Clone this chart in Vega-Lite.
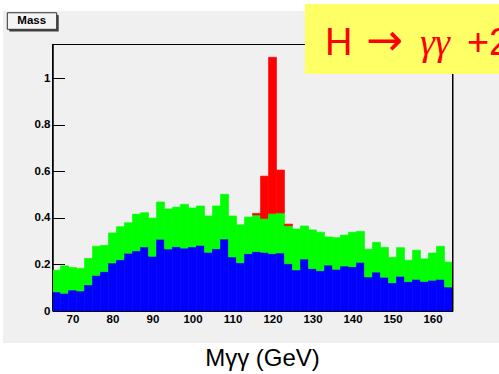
{
  "$schema": "https://vega.github.io/schema/vega-lite/v6.json",
  "width": 400,
  "height": 267,
  "autosize": {"type": "none"},
  "padding": {"left": 52.5, "top": 44, "right": 46.5, "bottom": 63},
  "background": "#f0f0f0",
  "config": {
    "view": {"stroke": "#000000", "strokeWidth": 1},
    "font": "Liberation Sans"
  },
  "data": {"values": [{}]},
  "layer": [
    {
      "mark": {"type": "rect", "fill": "#ffffff", "clip": false},
      "encoding": {
        "x": {"datum": 40}, "x2": {"datum": 190},
        "y": {"datum": -0.137}, "y2": {"datum": -0.4}
      }
    },
    {
      "mark": {"type": "rect", "fill": "#ffffff", "clip": false},
      "encoding": {
        "x": {"datum": 40}, "x2": {"datum": 190},
        "y": {"datum": 1.288}, "y2": {"datum": 1.5}
      }
    },
    {
      "mark": {"type": "rect", "fill": "#ffffff", "clip": false},
      "encoding": {
        "x": {"datum": 40}, "x2": {"datum": 52.6},
        "y": {"datum": -0.4}, "y2": {"datum": 1.5}
      }
    },
    {
      "data": {
        "values": [
          {"lo": 65, "hi": 67, "bkg1": 0.082, "bkg2": 0.093, "sig": 0},
          {"lo": 67, "hi": 69, "bkg1": 0.076, "bkg2": 0.118, "sig": 0},
          {"lo": 69, "hi": 71, "bkg1": 0.090, "bkg2": 0.097, "sig": 0},
          {"lo": 71, "hi": 73, "bkg1": 0.086, "bkg2": 0.097, "sig": 0},
          {"lo": 73, "hi": 75, "bkg1": 0.112, "bkg2": 0.114, "sig": 0},
          {"lo": 75, "hi": 77, "bkg1": 0.153, "bkg2": 0.125, "sig": 0},
          {"lo": 77, "hi": 79, "bkg1": 0.169, "bkg2": 0.113, "sig": 0},
          {"lo": 79, "hi": 81, "bkg1": 0.206, "bkg2": 0.129, "sig": 0},
          {"lo": 81, "hi": 83, "bkg1": 0.220, "bkg2": 0.142, "sig": 0},
          {"lo": 83, "hi": 85, "bkg1": 0.248, "bkg2": 0.131, "sig": 0},
          {"lo": 85, "hi": 87, "bkg1": 0.258, "bkg2": 0.158, "sig": 0},
          {"lo": 87, "hi": 89, "bkg1": 0.275, "bkg2": 0.147, "sig": 0},
          {"lo": 89, "hi": 91, "bkg1": 0.235, "bkg2": 0.164, "sig": 0},
          {"lo": 91, "hi": 93, "bkg1": 0.308, "bkg2": 0.160, "sig": 0},
          {"lo": 93, "hi": 95, "bkg1": 0.266, "bkg2": 0.172, "sig": 0},
          {"lo": 95, "hi": 97, "bkg1": 0.276, "bkg2": 0.170, "sig": 0},
          {"lo": 97, "hi": 99, "bkg1": 0.270, "bkg2": 0.188, "sig": 0},
          {"lo": 99, "hi": 101, "bkg1": 0.275, "bkg2": 0.167, "sig": 0},
          {"lo": 101, "hi": 103, "bkg1": 0.282, "bkg2": 0.169, "sig": 0},
          {"lo": 103, "hi": 105, "bkg1": 0.252, "bkg2": 0.156, "sig": 0},
          {"lo": 105, "hi": 107, "bkg1": 0.267, "bkg2": 0.184, "sig": 0},
          {"lo": 107, "hi": 109, "bkg1": 0.309, "bkg2": 0.192, "sig": 0},
          {"lo": 109, "hi": 111, "bkg1": 0.232, "bkg2": 0.176, "sig": 0},
          {"lo": 111, "hi": 113, "bkg1": 0.207, "bkg2": 0.163, "sig": 0},
          {"lo": 113, "hi": 115, "bkg1": 0.246, "bkg2": 0.157, "sig": 0},
          {"lo": 115, "hi": 117, "bkg1": 0.255, "bkg2": 0.157, "sig": 0.007},
          {"lo": 117, "hi": 119, "bkg1": 0.252, "bkg2": 0.145, "sig": 0.182},
          {"lo": 119, "hi": 121, "bkg1": 0.246, "bkg2": 0.172, "sig": 0.671},
          {"lo": 121, "hi": 123, "bkg1": 0.249, "bkg2": 0.172, "sig": 0.184},
          {"lo": 123, "hi": 125, "bkg1": 0.203, "bkg2": 0.163, "sig": 0.007},
          {"lo": 125, "hi": 127, "bkg1": 0.176, "bkg2": 0.176, "sig": 0},
          {"lo": 127, "hi": 129, "bkg1": 0.223, "bkg2": 0.142, "sig": 0},
          {"lo": 129, "hi": 131, "bkg1": 0.182, "bkg2": 0.166, "sig": 0},
          {"lo": 131, "hi": 133, "bkg1": 0.173, "bkg2": 0.165, "sig": 0},
          {"lo": 133, "hi": 135, "bkg1": 0.197, "bkg2": 0.121, "sig": 0},
          {"lo": 135, "hi": 137, "bkg1": 0.179, "bkg2": 0.136, "sig": 0},
          {"lo": 137, "hi": 139, "bkg1": 0.193, "bkg2": 0.133, "sig": 0},
          {"lo": 139, "hi": 141, "bkg1": 0.190, "bkg2": 0.148, "sig": 0},
          {"lo": 141, "hi": 143, "bkg1": 0.209, "bkg2": 0.133, "sig": 0},
          {"lo": 143, "hi": 145, "bkg1": 0.146, "bkg2": 0.119, "sig": 0},
          {"lo": 145, "hi": 147, "bkg1": 0.167, "bkg2": 0.128, "sig": 0},
          {"lo": 147, "hi": 149, "bkg1": 0.145, "bkg2": 0.128, "sig": 0},
          {"lo": 149, "hi": 151, "bkg1": 0.121, "bkg2": 0.109, "sig": 0},
          {"lo": 151, "hi": 153, "bkg1": 0.149, "bkg2": 0.123, "sig": 0},
          {"lo": 153, "hi": 155, "bkg1": 0.126, "bkg2": 0.092, "sig": 0},
          {"lo": 155, "hi": 157, "bkg1": 0.136, "bkg2": 0.125, "sig": 0},
          {"lo": 157, "hi": 159, "bkg1": 0.127, "bkg2": 0.097, "sig": 0},
          {"lo": 159, "hi": 161, "bkg1": 0.132, "bkg2": 0.117, "sig": 0},
          {"lo": 161, "hi": 163, "bkg1": 0.136, "bkg2": 0.142, "sig": 0},
          {"lo": 163, "hi": 165, "bkg1": 0.103, "bkg2": 0.107, "sig": 0}
        ]
      },
      "transform": [
        {"fold": ["bkg1", "bkg2", "sig"], "as": ["comp", "v"]},
        {"filter": "datum.v > 0"},
        {"stack": "v", "groupby": ["lo"], "sort": [{"field": "comp", "order": "ascending"}], "as": ["v0", "v1"], "offset": "zero"}
      ],
      "mark": {"type": "rect", "strokeWidth": 0.6},
      "encoding": {
        "x": {
          "field": "lo", "type": "quantitative",
          "scale": {"domain": [65, 165], "nice": false, "zero": false},
          "axis": {
            "zindex": 1,
            "values": [70, 80, 90, 100, 110, 120, 130, 140, 150, 160],
            "ticks": false,
            "grid": false,
            "domainColor": "#000000",
            "labelFont": "Liberation Sans",
            "labelFontWeight": "bold",
            "labelFontSize": 11.5,
            "labelColor": "#000000",
            "labelPadding": 2,
            "title": "Mγγ (GeV)",
            "titleFont": "Liberation Sans",
            "titleFontWeight": "normal",
            "titleFontSize": 24,
            "titleColor": "#000000",
            "titleX": 209.5,
            "titleY": 54.5,
            "titleAlign": "center",
            "titleBaseline": "alphabetic"
          }
        },
        "x2": {"field": "hi"},
        "y": {
          "field": "v0", "type": "quantitative",
          "scale": {"domain": [0, 1.146], "nice": false, "zero": true},
          "axis": {
            "zindex": 0,
            "values": [0, 0.05, 0.1, 0.15, 0.2, 0.25, 0.3, 0.35, 0.4, 0.45, 0.5, 0.55, 0.6, 0.65, 0.7, 0.75, 0.8, 0.85, 0.9, 0.95, 1, 1.05, 1.1],
            "grid": false,
            "domainColor": "#000000",
            "tickColor": "#000000",
            "tickSize": {"condition": {"test": "abs(datum.value*5 - round(datum.value*5)) < 0.001", "value": -12}, "value": -6},
            "labelExpr": "abs(datum.value*5 - round(datum.value*5)) < 0.001 ? format(datum.value, '~g') : ''",
            "labelPadding": 14.5,
            "labelFont": "Liberation Sans",
            "labelFontWeight": "bold",
            "labelFontSize": 11.5,
            "labelColor": "#000000",
            "title": null
          }
        },
        "y2": {"field": "v1"},
        "fill": {
          "field": "comp", "type": "nominal",
          "scale": {"domain": ["bkg1", "bkg2", "sig"], "range": ["#0000ff", "#00ff00", "#ff0000"]},
          "legend": null
        },
        "stroke": {
          "field": "comp", "type": "nominal",
          "scale": {"domain": ["bkg1", "bkg2", "sig"], "range": ["#0000ff", "#00ff00", "#ff0000"]},
          "legend": null
        }
      }
    },
    {
      "mark": {"type": "rule", "color": "#000000", "strokeWidth": 1},
      "encoding": {"x": {"datum": 65}}
    },
    {
      "mark": {"type": "rule", "color": "#000000", "strokeWidth": 1},
      "encoding": {"x": {"datum": 165}}
    },
    {
      "mark": {"type": "rect", "fill": "#404040", "clip": false},
      "encoding": {
        "x": {"datum": 54.2}, "x2": {"datum": 66.55},
        "y": {"datum": 1.271}, "y2": {"datum": 1.2}
      }
    },
    {
      "mark": {"type": "rect", "fill": "#f4f4f4", "stroke": "#333333", "strokeWidth": 1, "clip": false},
      "encoding": {
        "x": {"datum": 53.7}, "x2": {"datum": 66.05},
        "y": {"datum": 1.280}, "y2": {"datum": 1.209}
      }
    },
    {
      "mark": {"type": "text", "text": "Mass", "font": "Liberation Sans", "fontWeight": "bold", "fontSize": 11.5, "color": "#000000", "align": "center", "baseline": "alphabetic", "clip": false},
      "encoding": {"x": {"datum": 59.8}, "y": {"datum": 1.2318}}
    },
    {
      "mark": {"type": "rect", "fill": "#ffff66", "clip": false},
      "encoding": {
        "x": {"datum": 128.1}, "x2": {"datum": 190},
        "y": {"datum": 1.3176}, "y2": {"datum": 1.0172}
      }
    },
    {
      "mark": {"type": "text", "text": "H", "font": "Liberation Sans", "fontSize": 38, "color": "#ff0000", "align": "left", "baseline": "alphabetic", "clip": false},
      "encoding": {"x": {"datum": 133.1}, "y": {"datum": 1.0987}}
    },
    {
      "mark": {"type": "text", "text": "→", "font": "DejaVu Sans", "fontSize": 44, "color": "#ff0000", "align": "left", "baseline": "alphabetic", "clip": false},
      "encoding": {"x": {"datum": 143.4}, "y": {"datum": 1.0987}}
    },
    {
      "mark": {"type": "text", "text": "γγ", "font": "Liberation Serif", "fontStyle": "italic", "fontSize": 38, "color": "#ff0000", "align": "left", "baseline": "alphabetic", "clip": false},
      "encoding": {"x": {"datum": 156.9}, "y": {"datum": 1.0987}}
    },
    {
      "mark": {"type": "text", "text": "+2", "font": "Liberation Sans", "fontSize": 38, "color": "#ff0000", "align": "left", "baseline": "alphabetic", "clip": false},
      "encoding": {"x": {"datum": 168.6}, "y": {"datum": 1.0987}}
    }
  ]
}
